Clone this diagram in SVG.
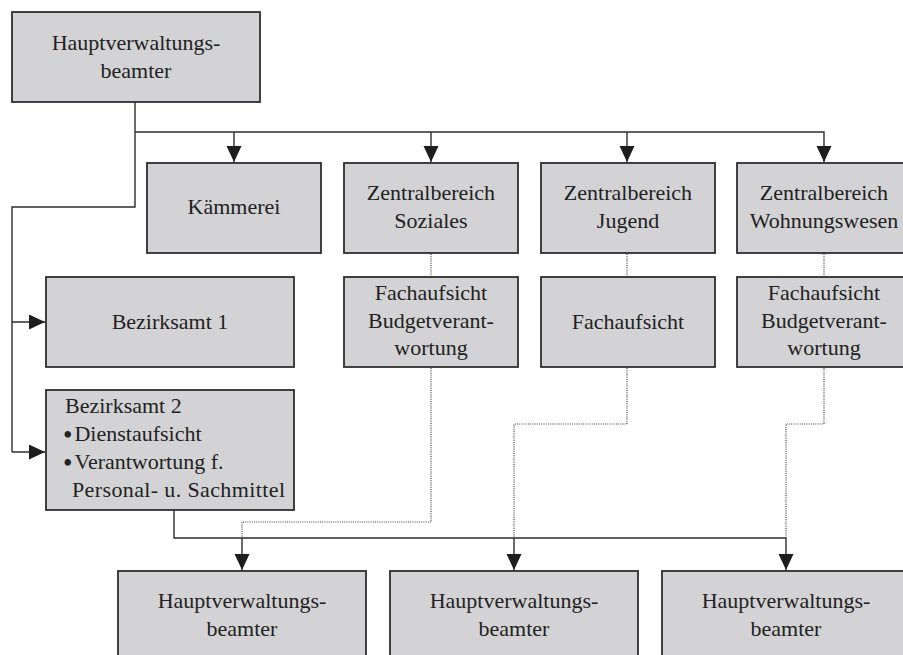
<svg xmlns="http://www.w3.org/2000/svg" width="903" height="655" viewBox="0 0 903 655">
  <style>
    .box { fill: #d3d3d5; stroke: #2e2e2e; stroke-width: 1.8; }
    .t { font-family: "Liberation Serif", "Times New Roman", serif; font-size: 22px; fill: #222; }
    .c { text-anchor: middle; }
    .b { font-size: 27px; }
    .solid { fill: none; stroke: #2e2e2e; stroke-width: 1.4; }
    .dot { fill: none; stroke: #444; stroke-width: 1.2; stroke-dasharray: 1 1.2; }
  </style>
  <defs>
    <marker id="arrow" markerUnits="userSpaceOnUse" markerWidth="16" markerHeight="16" refX="16" refY="7.5" orient="auto">
      <path d="M0,0 L16,7.5 L0,15 z" fill="#1e1e1e"/>
    </marker>
  </defs>

  <rect width="903" height="655" fill="#ffffff"/>

  <!-- connectors -->
  <g id="connectors">
    <!-- top head to central units -->
    <path class="solid" d="M135,102 V207 H12 V452"/>
    <path class="solid" d="M135,132 H824 V162" marker-end="url(#arrow)"/>
    <path class="solid" d="M234,132 V162" marker-end="url(#arrow)"/>
    <path class="solid" d="M431,132 V162" marker-end="url(#arrow)"/>
    <path class="solid" d="M627,132 V162" marker-end="url(#arrow)"/>
    <!-- head to district offices -->
    <path class="solid" d="M12,322 H45" marker-end="url(#arrow)"/>
    <path class="solid" d="M12,452 H45" marker-end="url(#arrow)"/>
    <!-- district office 2 to lower heads -->
    <path class="solid" d="M174,510 V538 H786 V570" marker-end="url(#arrow)"/>
    <path class="solid" d="M242,538 V570" marker-end="url(#arrow)"/>
    <path class="solid" d="M514,538 V570" marker-end="url(#arrow)"/>
    <!-- dotted supervision lines -->
    <path class="dot" d="M431,254 V277"/>
    <path class="dot" d="M627,254 V277"/>
    <path class="dot" d="M824,254 V277"/>
    <path class="dot" d="M431,368 V522 H242 V538"/>
    <path class="dot" d="M627,368 V424 H514 V538"/>
    <path class="dot" d="M824,368 V424 H786 V538"/>
  </g>

  <g id="hvb-top">
    <rect class="box" x="12" y="12" width="248" height="90"/>
    <text class="t c" x="136" y="50">Hauptverwaltungs-</text>
    <text class="t c" x="136" y="78">beamter</text>
  </g>

  <g id="kaemmerei">
    <rect class="box" x="147" y="163" width="174" height="90"/>
    <text class="t c" x="234" y="214">Kämmerei</text>
  </g>

  <g id="zb-soziales">
    <rect class="box" x="344" y="163" width="174" height="90"/>
    <text class="t c" x="431" y="200">Zentralbereich</text>
    <text class="t c" x="431" y="228">Soziales</text>
  </g>

  <g id="zb-jugend">
    <rect class="box" x="541" y="163" width="174" height="90"/>
    <text class="t c" x="628" y="200">Zentralbereich</text>
    <text class="t c" x="628" y="228">Jugend</text>
  </g>

  <g id="zb-wohnungswesen">
    <rect class="box" x="737" y="163" width="174" height="90"/>
    <text class="t c" x="824" y="200">Zentralbereich</text>
    <text class="t c" x="824" y="228">Wohnungswesen</text>
  </g>

  <g id="fa-soziales">
    <rect class="box" x="344" y="277" width="174" height="90"/>
    <text class="t c" x="431" y="300">Fachaufsicht</text>
    <text class="t c" x="431" y="328">Budgetverant-</text>
    <text class="t c" x="431" y="355">wortung</text>
  </g>

  <g id="fa-jugend">
    <rect class="box" x="541" y="277" width="174" height="90"/>
    <text class="t c" x="628" y="329">Fachaufsicht</text>
  </g>

  <g id="fa-wohnungswesen">
    <rect class="box" x="737" y="277" width="174" height="90"/>
    <text class="t c" x="824" y="300">Fachaufsicht</text>
    <text class="t c" x="824" y="328">Budgetverant-</text>
    <text class="t c" x="824" y="355">wortung</text>
  </g>

  <g id="bezirksamt-1">
    <rect class="box" x="46" y="277" width="248" height="90"/>
    <text class="t c" x="170" y="329">Bezirksamt 1</text>
  </g>

  <g id="bezirksamt-2">
    <rect class="box" x="46" y="390" width="248" height="120"/>
    <text class="t" x="65" y="413">Bezirksamt 2</text>
    <text class="t" x="63" y="441"><tspan class="b" dy="3">•</tspan><tspan dx="2" dy="-3">Dienstaufsicht</tspan></text>
    <text class="t" x="63" y="469"><tspan class="b" dy="3">•</tspan><tspan dx="2" dy="-3">Verantwortung f.</tspan></text>
    <text class="t" x="72" y="497" textLength="213" lengthAdjust="spacing">Personal- u. Sachmittel</text>
  </g>

  <g id="hvb-1">
    <rect class="box" x="118" y="571" width="248" height="92"/>
    <text class="t c" x="242" y="608">Hauptverwaltungs-</text>
    <text class="t c" x="242" y="636">beamter</text>
  </g>

  <g id="hvb-2">
    <rect class="box" x="390" y="571" width="248" height="92"/>
    <text class="t c" x="514" y="608">Hauptverwaltungs-</text>
    <text class="t c" x="514" y="636">beamter</text>
  </g>

  <g id="hvb-3">
    <rect class="box" x="662" y="571" width="248" height="92"/>
    <text class="t c" x="786" y="608">Hauptverwaltungs-</text>
    <text class="t c" x="786" y="636">beamter</text>
  </g>
</svg>
